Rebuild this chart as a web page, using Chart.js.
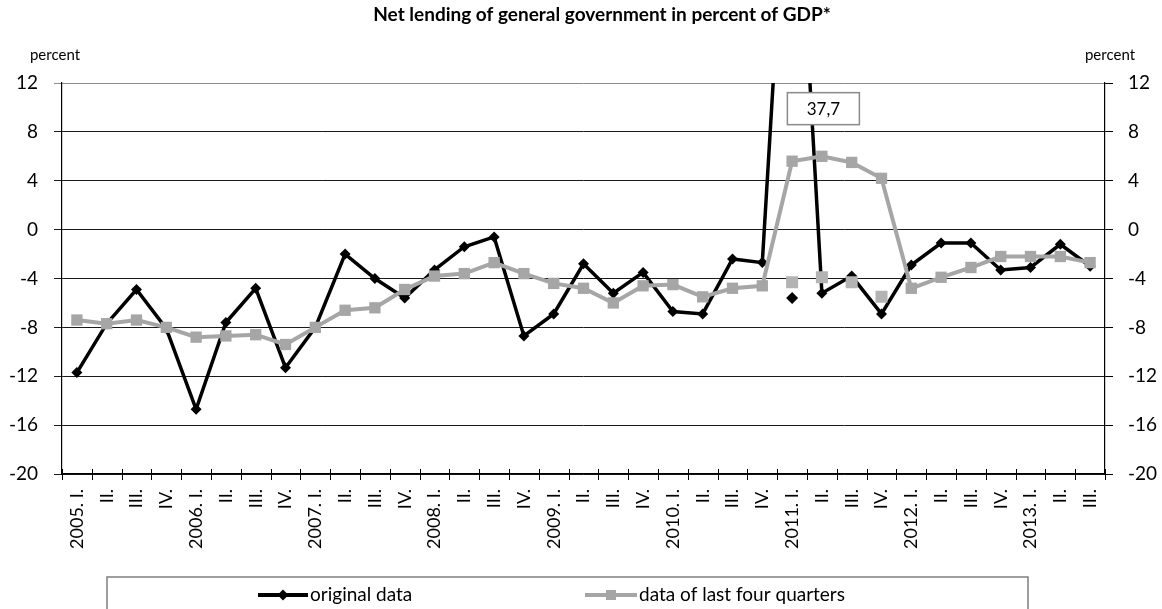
<!DOCTYPE html>
<html>
<head>
<meta charset="utf-8">
<script src="https://cdn.jsdelivr.net/npm/chart.js@4.4.1/dist/chart.umd.min.js"></script>
<style>
  html, body { margin: 0; padding: 0; background: #fff; }
  #wrap { width: 1162px; height: 609px; position: relative; }
</style>
</head>
<body>
<div id="wrap"><canvas id="chart" width="1162" height="609"></canvas></div>
<script>
const quarters = [
    "2005. I.", "II.", "III.", "IV.",
    "2006. I.", "II.", "III.", "IV.",
    "2007. I.", "II.", "III.", "IV.",
    "2008. I.", "II.", "III.", "IV.",
    "2009. I.", "II.", "III.", "IV.",
    "2010. I.", "II.", "III.", "IV.",
    "2011. I.", "II.", "III.", "IV.",
    "2012. I.", "II.", "III.", "IV.",
    "2013. I.", "II.", "III."
];

const originalData = [
    -11.7, -7.7, -4.9, -8.1,
    -14.7, -7.6, -4.8, -11.3,
    -8.0, -2.0, -4.0, -5.6,
    -3.3, -1.4, -0.6, -8.7,
    -6.9, -2.8, -5.2, -3.5,
    -6.7, -6.9, -2.4, -2.7,
    37.7, -5.2, -3.8, -6.9,
    -2.9, -1.1, -1.1, -3.3,
    -3.1, -1.2, -3.0
];

const lastFourQuarters = [
    -7.4, -7.7, -7.4, -8.0,
    -8.8, -8.7, -8.6, -9.4,
    -8.0, -6.6, -6.4, -4.9,
    -3.8, -3.6, -2.7, -3.6,
    -4.4, -4.8, -6.0, -4.6,
    -4.5, -5.5, -4.8, -4.6,
    5.6, 6.0, 5.5, 4.2,
    -4.8, -3.9, -3.1, -2.2,
    -2.2, -2.2, -2.7
];

// 2011 values without the one-off item, shown as loose markers
const originalAdjusted = quarters.map((_, i) => i === 24 ? -5.6 : null);
const adjustedQuarters = { 24: -4.3, 25: -3.9, 26: -4.3, 27: -5.5 };
const lastFourAdjusted = quarters.map((_, i) => adjustedQuarters[i] ?? null);

const yTicks = [-20, -16, -12, -8, -4, 0, 4, 8, 12];
const outlierLabel = "37,7";

const FONT = "Lato, 'Open Sans', sans-serif";
const BLACK = "#000000";
const GREY = "#a6a6a6";

const extras = {
    id: "extras",
    afterDatasetsDraw(chart) {
        const { ctx, chartArea, scales } = chart;
        const x = scales.x;
        const y = scales.y;
        ctx.save();

        // cross ticks on the category axis
        const step = x.getPixelForValue(1) - x.getPixelForValue(0);
        ctx.strokeStyle = BLACK;
        ctx.lineWidth = 1;
        for (let i = 0; i <= quarters.length; i++) {
            const px = Math.round(x.getPixelForValue(i) - step / 2) + 0.5;
            ctx.beginPath();
            ctx.moveTo(px, chartArea.bottom - 5);
            ctx.lineTo(px, chartArea.bottom + 6);
            ctx.stroke();
        }

        // value box for the clipped 2011 Q1 point
        const bx = x.getPixelForValue(24) + step * 1.05;
        const by = y.getPixelForValue(9.9);
        const bw = 72, bh = 32;
        ctx.fillStyle = "#fff";
        ctx.fillRect(bx - bw / 2, by - bh / 2, bw, bh);
        ctx.strokeStyle = "#8a8a8a";
        ctx.lineWidth = 1.5;
        ctx.strokeRect(bx - bw / 2, by - bh / 2, bw, bh);
        ctx.fillStyle = BLACK;
        ctx.font = "17px " + FONT;
        ctx.textAlign = "center";
        ctx.textBaseline = "middle";
        ctx.fillText(outlierLabel, bx, by + 1);
        ctx.restore();
    },
    afterDraw(chart) {
        const { ctx } = chart;
        ctx.save();
        ctx.fillStyle = BLACK;
        ctx.textBaseline = "middle";

        ctx.font = "bold 19px " + FONT;
        ctx.textAlign = "center";
        ctx.fillText("Net lending of general government in percent of GDP*", 602, 15);

        ctx.font = "15px " + FONT;
        ctx.fillText("percent", 55, 55);
        ctx.fillText("percent", 1110, 55);

        // legend box
        ctx.strokeStyle = "#7f7f7f";
        ctx.lineWidth = 1.5;
        ctx.strokeRect(107, 577, 921, 50);

        const ly = 595;
        ctx.lineWidth = 4;
        ctx.strokeStyle = BLACK;
        ctx.beginPath();
        ctx.moveTo(258, ly);
        ctx.lineTo(308, ly);
        ctx.stroke();
        ctx.fillStyle = BLACK;
        ctx.beginPath();
        ctx.moveTo(283, ly - 5.5);
        ctx.lineTo(288.5, ly);
        ctx.lineTo(283, ly + 5.5);
        ctx.lineTo(277.5, ly);
        ctx.closePath();
        ctx.fill();

        ctx.strokeStyle = GREY;
        ctx.beginPath();
        ctx.moveTo(585, ly);
        ctx.lineTo(637, ly);
        ctx.stroke();
        ctx.fillStyle = GREY;
        ctx.fillRect(606, ly - 5, 10, 10);

        ctx.fillStyle = BLACK;
        ctx.font = "19px " + FONT;
        ctx.textAlign = "left";
        ctx.fillText(chart.data.datasets[0].label, 310, ly);
        ctx.fillText(chart.data.datasets[1].label, 639, ly);
        ctx.restore();
    }
};

const tickFont = { family: FONT, size: 19 };

new Chart(document.getElementById("chart"), {
    type: "line",
    data: {
        labels: quarters,
        datasets: [
            {
                label: "original data",
                data: originalData,
                borderColor: BLACK,
                backgroundColor: BLACK,
                borderWidth: 3.5,
                pointStyle: "rectRot",
                pointRadius: 5.5,
                pointBorderWidth: 0,
                tension: 0,
                order: 3
            },
            {
                label: "data of last four quarters",
                data: lastFourQuarters,
                borderColor: GREY,
                backgroundColor: GREY,
                borderWidth: 4,
                pointStyle: "rect",
                pointRadius: 8,
                pointBorderWidth: 0,
                tension: 0,
                order: 2
            },
            {
                label: "original adjusted",
                data: originalAdjusted,
                showLine: false,
                backgroundColor: BLACK,
                borderColor: BLACK,
                pointStyle: "rectRot",
                pointRadius: 6,
                pointBorderWidth: 0,
                order: 1
            },
            {
                label: "last four adjusted",
                data: lastFourAdjusted,
                showLine: false,
                backgroundColor: "#b3b3b3",
                borderColor: "#b3b3b3",
                pointStyle: "rect",
                pointRadius: 8.5,
                pointBorderWidth: 0,
                order: 0
            }
        ]
    },
    options: {
        responsive: false,
        animation: false,
        spanGaps: false,
        layout: { padding: { top: 83, bottom: 0, left: 0, right: 0 } },
        plugins: {
            legend: { display: false },
            tooltip: { enabled: false },
            title: { display: false }
        },
        scales: {
            x: {
                type: "category",
                offset: true,
                grid: { offset: true, drawOnChartArea: false, drawTicks: false, tickLength: 6, color: BLACK },
                border: { color: BLACK, width: 1.2 },
                ticks: {
                    autoSkip: false,
                    maxRotation: 90,
                    minRotation: 90,
                    padding: 15,
                    color: BLACK,
                    font: { family: FONT, size: 18 }
                },
                afterFit: scale => { scale.height = 135; }
            },
            y: {
                position: "left",
                min: yTicks[0],
                max: yTicks[yTicks.length - 1],
                afterBuildTicks: scale => { scale.ticks = yTicks.map(v => ({ value: v })); },
                grid: {
                    color: ctx => ctx.tick && ctx.tick.value === 12 ? "#8c8c8c" : "#1a1a1a",
                    lineWidth: 1,
                    tickLength: 8
                },
                border: { color: BLACK, width: 1.2 },
                ticks: { color: BLACK, font: tickFont, padding: 16 },
                afterFit: scale => { scale.width = 62; }
            },
            y2: {
                position: "right",
                min: yTicks[0],
                max: yTicks[yTicks.length - 1],
                afterBuildTicks: scale => { scale.ticks = yTicks.map(v => ({ value: v })); },
                grid: { drawOnChartArea: false, tickLength: 8, color: BLACK },
                border: { color: BLACK, width: 1.2 },
                ticks: { color: BLACK, font: tickFont, padding: 15 },
                afterFit: scale => { scale.width = 57; }
            }
        }
    },
    plugins: [extras]
});
</script>
</body>
</html>
